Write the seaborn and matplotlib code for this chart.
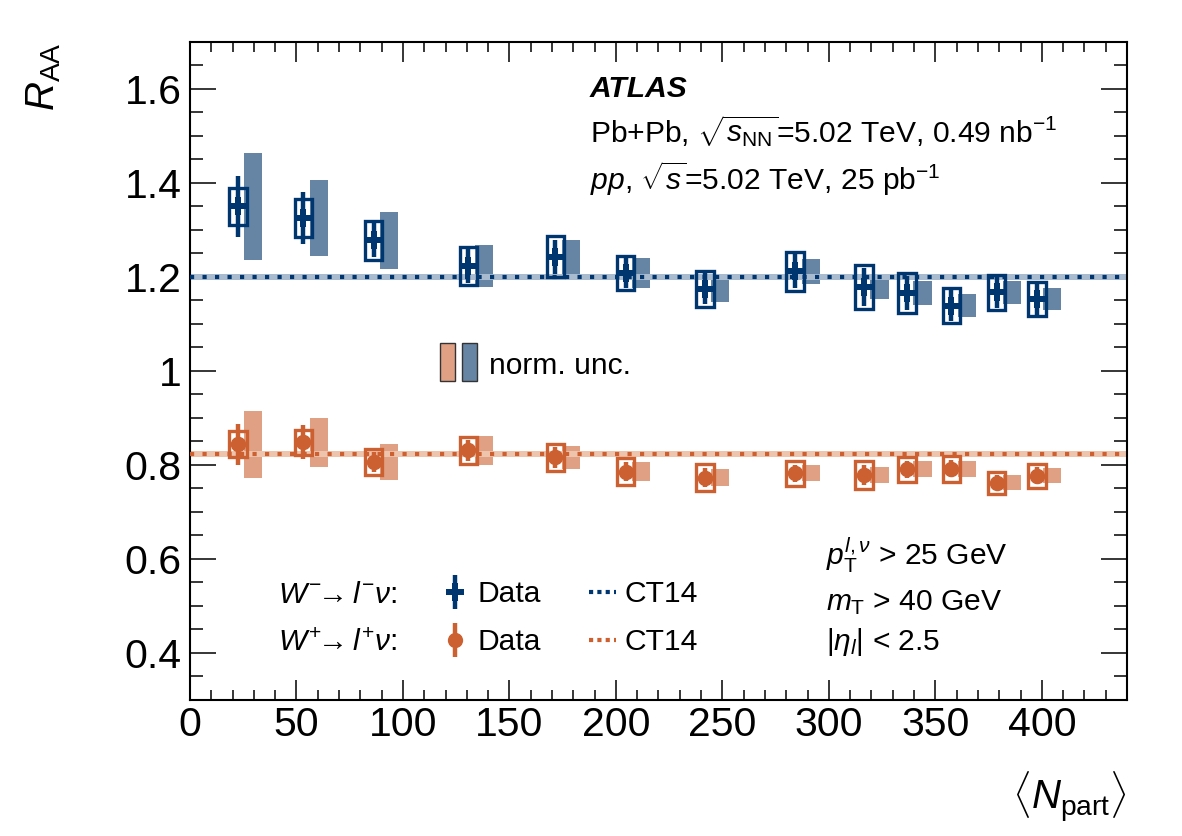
import matplotlib
matplotlib.use("Agg")
import matplotlib.pyplot as plt
from matplotlib.patches import Rectangle
from matplotlib.lines import Line2D
from matplotlib.ticker import MultipleLocator, FuncFormatter
import seaborn as sns

# <Npart> of the centrality classes
npart = [22.5, 53.3, 86.3, 130.7, 171.6, 204.6, 241.8, 284.2, 316.5, 336.7, 357.5, 378.8, 397.7]

# W- -> l- nu
wm_raa = [1.350, 1.326, 1.278, 1.223, 1.243, 1.208, 1.175, 1.212, 1.179, 1.166, 1.139, 1.167, 1.153]
wm_stat = [0.065, 0.055, 0.036, 0.036, 0.036, 0.032, 0.033, 0.036, 0.040, 0.037, 0.033, 0.032, 0.033]
wm_syst = [0.040, 0.040, 0.041, 0.040, 0.044, 0.036, 0.038, 0.041, 0.047, 0.042, 0.037, 0.037, 0.037]
wm_norm = [0.114, 0.081, 0.060, 0.044, 0.036, 0.032, 0.028, 0.027, 0.025, 0.025, 0.024, 0.0245, 0.024]

# W+ -> l+ nu
wp_raa = [0.844, 0.848, 0.806, 0.831, 0.816, 0.786, 0.773, 0.782, 0.779, 0.791, 0.792, 0.762, 0.777]
wp_stat = [0.043, 0.036, 0.022, 0.022, 0.022, 0.020, 0.020, 0.018, 0.022, 0.018, 0.018, 0.016, 0.018]
wp_syst = [0.028, 0.027, 0.028, 0.029, 0.028, 0.029, 0.029, 0.026, 0.030, 0.027, 0.028, 0.023, 0.026]
wp_norm = [0.071, 0.052, 0.038, 0.030, 0.024, 0.020, 0.018, 0.017, 0.017, 0.017, 0.017, 0.016, 0.016]

# CT14 predictions
ct14_wm = 1.199
ct14_wp = 0.824
ct14_unc = 0.0065

blue, blue_band, blue_light = "#003670", "#6685a5", "#a9bbcf"
orange, orange_band, orange_light = "#cc6030", "#e0a083", "#efc4ad"

sns.set_theme(style="ticks")
plt.rcParams["font.family"] = ["Liberation Sans", "DejaVu Sans"]
plt.rcParams["mathtext.fontset"] = "custom"
plt.rcParams["mathtext.rm"] = "Liberation Sans"
plt.rcParams["mathtext.it"] = "Liberation Sans:italic"
plt.rcParams["mathtext.bf"] = "Liberation Sans:bold"
plt.rcParams["text.color"] = "black"
plt.rcParams["axes.labelcolor"] = "black"

fig = plt.figure(figsize=(11.82, 8.36), dpi=100)
ax = fig.add_axes([0.1607, 0.1627, 0.7928, 0.7871])

box_hw = 4.1      # half width of syst. boxes (in Npart units)
band_off, band_w = 3.0, 8.5
fs = 21.6

series = [
    (wm_raa, wm_stat, wm_syst, wm_norm, ct14_wm, blue, blue_band, blue_light, "P", 175),
    (wp_raa, wp_stat, wp_syst, wp_norm, ct14_wp, orange, orange_band, orange_light, "o", 125),
]

for raa, stat, syst, norm, ct, c, cb, cl, mk, ms in series:
    for x, y, s, n in zip(npart, raa, syst, norm):
        ax.add_patch(Rectangle((x + band_off, y - n), band_w, 2 * n, fc=cb, lw=0, zorder=1))
    ax.axhspan(ct - ct14_unc, ct + ct14_unc, color=cl, lw=0, zorder=2)
    ax.axhline(ct, color=c, lw=3, ls=(0, (1, 2)), dash_capstyle="butt", zorder=3)
    for x, y, s in zip(npart, raa, syst):
        ax.add_patch(Rectangle((x - box_hw, y - s), 2 * box_hw, 2 * s, fill=False,
                               ec=c, lw=2.4, zorder=4))
    ax.errorbar(npart, raa, yerr=stat, fmt="none", ecolor=c, elinewidth=3.2, capsize=0, zorder=5)
    sns.scatterplot(x=npart, y=raa, marker=mk, s=ms, color=c, edgecolor=c, linewidth=0,
                    ax=ax, zorder=6, legend=False)

ax.set_xlim(0, 440)
ax.set_ylim(0.3, 1.7)
ax.xaxis.set_major_locator(MultipleLocator(50))
ax.xaxis.set_minor_locator(MultipleLocator(10))
ax.yaxis.set_major_locator(MultipleLocator(0.2))
ax.yaxis.set_minor_locator(MultipleLocator(0.05))
ax.yaxis.set_major_formatter(FuncFormatter(lambda v, p: f"{v:g}"))
ax.tick_params(which="both", direction="in", top=True, right=True, width=1.1, colors="black")
ax.tick_params(axis="y", which="major", length=19, labelsize=29.5, pad=6)
ax.tick_params(axis="y", which="minor", length=9.5)
ax.tick_params(axis="x", which="major", length=14.5, labelsize=29.5, pad=4)
ax.tick_params(axis="x", which="minor", length=7)
for sp in ax.spines.values():
    sp.set_linewidth(1.5)
    sp.set_color("black")

ax.set_ylabel(r"$R_{\mathrm{AA}}$", fontsize=29, loc="top")
ax.yaxis.set_label_coords(-0.135, 1.0)
ax.set_xlabel(r"$\langle N_{\mathrm{part}}\rangle$", fontsize=29, loc="right")
ax.xaxis.set_label_coords(1.0, -0.105)

# labels
ax.text(0.427, 0.916, "ATLAS", transform=ax.transAxes, fontsize=fs, fontweight="bold",
        fontstyle="italic")
ax.text(0.427, 0.848, r"Pb+Pb, $\sqrt{s_{\mathrm{NN}}}$=5.02 TeV, 0.49 nb$^{-1}$",
        transform=ax.transAxes, fontsize=fs)
ax.text(0.427, 0.775, r"$pp$, $\sqrt{s}$=5.02 TeV, 25 pb$^{-1}$",
        transform=ax.transAxes, fontsize=fs)

ax.text(0.679, 0.205, r"$p_{\mathrm{T}}^{l,\nu}$ > 25 GeV", transform=ax.transAxes, fontsize=fs)
ax.text(0.679, 0.137, r"$m_{\mathrm{T}}$ > 40 GeV", transform=ax.transAxes, fontsize=fs)
ax.text(0.679, 0.076, r"$|\eta_{l}|$ < 2.5", transform=ax.transAxes, fontsize=fs)

# norm. unc. legend
ax.add_patch(Rectangle((0.2668, 0.4848), 0.016, 0.0578, transform=ax.transAxes,
                       fc=orange_band, ec="#333333", lw=1, zorder=7))
ax.add_patch(Rectangle((0.2903, 0.4848), 0.016, 0.0578, transform=ax.transAxes,
                       fc=blue_band, ec="#333333", lw=1, zorder=7))
ax.text(0.319, 0.5076, "norm. unc.", transform=ax.transAxes, fontsize=fs, va="center")

# data / CT14 legend
ax.text(0.094, 0.147, r"$W^{-}\!\!\rightarrow l^{-}\nu$:", transform=ax.transAxes, fontsize=fs)
ax.text(0.094, 0.074, r"$W^{+}\!\!\rightarrow l^{+}\nu$:", transform=ax.transAxes, fontsize=fs)


def data_handle(c, mk, ms):
    bar = Line2D([], [], color=c, marker="|", markersize=24, mew=3.2, ls="none")
    dot = Line2D([], [], color=c, marker=mk, markersize=ms, mew=0, ls="none")
    return (bar, dot)


handles = [data_handle(blue, "P", 13), data_handle(orange, "o", 11),
           Line2D([], [], color=blue, lw=3, ls=(0, (1, 1)), dash_capstyle="butt"),
           Line2D([], [], color=orange, lw=3, ls=(0, (1, 1)), dash_capstyle="butt")]
labels = ["Data", "Data", "CT14", "CT14"]
ax.legend(handles, labels, ncol=2, loc="upper left", bbox_to_anchor=(0.268, 0.182),
          frameon=False, fontsize=fs, handlelength=0.9, handletextpad=0.3,
          columnspacing=1.6, labelspacing=0.66, borderpad=0, borderaxespad=0,
          labelcolor="black")

fig.savefig("out.png", dpi=100)
